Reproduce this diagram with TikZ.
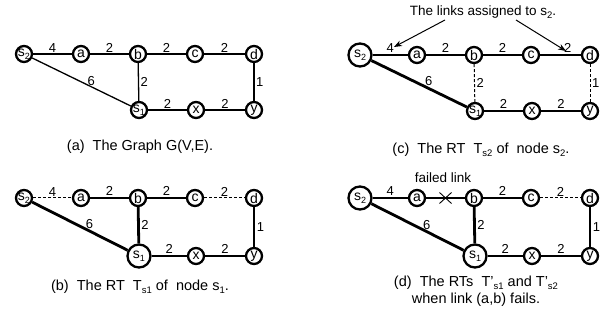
\documentclass[tikz,border=0pt]{standalone}
\usepackage{fontspec}
\setmainfont{Liberation Sans}
\usetikzlibrary{arrows.meta,calc}
\newcommand\mysub[1]{\raisebox{-3.5pt}{\fontsize{9.5}{9.5}\selectfont #1}}
\newcommand\nodesub[1]{\raisebox{-2.5pt}{\fontsize{9}{9}\selectfont #1}}
\newcommand\graphnodes[6]{%
  \node[#5] (#1s2) at ({#2+24},{#3}) {s\nodesub{2}};
  \node[vtx] (#1a) at ({#2+81},{#3}) {a};
  \node[vtx] (#1b) at ({#2+138},{#3}) {b};
  \node[vtx] (#1c) at ({#2+195},{#3}) {c};
  \node[vtx] (#1d) at ({#2+254},{#3}) {d};
  \node[#6] (#1s1) at ({#2+139},{#4}) {s\nodesub{1}};
  \node[vtx] (#1x) at ({#2+196},{#4}) {x};
  \node[vtx] (#1y) at ({#2+254},{#4}) {y};
}
\begin{document}
\begin{tikzpicture}[x=1pt,y=-1pt,
  vtx/.style={circle,draw,line width=2.3pt,minimum size=16pt,inner sep=0pt,
    font=\fontsize{14}{14}\selectfont},
  root/.style={vtx,minimum size=23pt},
  gedge/.style={line width=1.3pt},
  tedge/.style={line width=2.8pt},
  dedge/.style={line width=1pt,dash pattern=on 3pt off 2pt},
  lbl/.style={font=\fontsize{13}{13}\selectfont,inner sep=1pt,anchor=south,pos=0.5},
  vlbl/.style={font=\fontsize{13}{13}\selectfont,inner sep=1.5pt,anchor=west,pos=0.5},
  dlbl/.style={font=\fontsize{13}{13}\selectfont,inner sep=0pt,anchor=south,pos=0.6,yshift=1pt},
  captxt/.style={font=\fontsize{14.5}{17}\selectfont,align=center},
  notetxt/.style={font=\fontsize{13.5}{13.5}\selectfont},
  arr/.style={line width=1pt,-{Stealth[length=8pt,width=6pt]}}
]
\useasboundingbox (0,0) rectangle (605,320);

% ---------- panel (a)
\graphnodes{a-}{0}{54}{110}{vtx}{vtx}
\draw[gedge] (a-s2) -- node[lbl]{4} (a-a);
\draw[gedge] (a-a) -- node[lbl]{2} (a-b);
\draw[gedge] (a-b) -- node[lbl]{2} (a-c);
\draw[gedge] (a-c) -- node[lbl]{2} (a-d);
\draw[gedge] (a-s2) -- node[dlbl]{6} (a-s1);
\draw[gedge] (a-b) -- node[vlbl]{2} (a-s1);
\draw[gedge] (a-s1) -- node[lbl]{2} (a-x);
\draw[gedge] (a-x) -- node[lbl]{2} (a-y);
\draw[gedge] (a-d) -- node[vlbl]{1} (a-y);
\node[captxt] (a-cap) at (140,147) {(a)\ \ The Graph G(V,E).};

% ---------- panel (c)
\graphnodes{c-}{336}{55}{111}{root}{vtx}
\draw[tedge] (c-s2) -- node[lbl]{4} (c-a);
\draw[tedge] (c-a) -- node[lbl]{2} (c-b);
\draw[tedge] (c-b) -- node[lbl]{2} (c-c);
\draw[tedge] (c-c) -- node[lbl,pos=0.68]{2} (c-d);
\draw[tedge] (c-s2) -- node[dlbl]{6} (c-s1);
\draw[dedge] (c-b) -- node[vlbl]{2} (c-s1);
\draw[tedge] (c-s1) -- node[lbl]{2} (c-x);
\draw[tedge] (c-x) -- node[lbl]{2} (c-y);
\draw[dedge] (c-d) -- node[vlbl]{1} (c-y);
\node[notetxt] (c-note) at (483,12) {The links assigned to s\mysub{2}.};
\coordinate (c-f1) at (445,20);
\coordinate (c-t1) at (394,47);
\coordinate (c-f2) at (516,20);
\coordinate (c-t2) at (566,51);
\draw[arr] (c-f1) -- (c-t1);
\draw[arr] (c-f2) -- (c-t2);
\node[captxt] (c-cap) at (481,150) {(c)\ \ The RT \ T\mysub{s2} of \ node s\mysub{2}.};

% ---------- panel (b)
\graphnodes{b-}{0}{198}{256}{vtx}{root}
\draw[dedge] (b-s2) -- node[lbl]{4} (b-a);
\draw[tedge] (b-a) -- node[lbl]{2} (b-b);
\draw[tedge] (b-b) -- node[lbl]{2} (b-c);
\draw[dedge] (b-c) -- node[lbl]{2} (b-d);
\draw[tedge] (b-s2) -- node[dlbl]{6} (b-s1);
\draw[tedge] (b-b) -- node[vlbl]{2} (b-s1);
\draw[tedge] (b-s1) -- node[lbl]{2} (b-x);
\draw[tedge] (b-x) -- node[lbl]{2} (b-y);
\draw[tedge] (b-d) -- node[vlbl]{1} (b-y);
\node[captxt] (b-cap) at (140,287) {(b)\ \ The RT \ T\mysub{s1} of \ node s\mysub{1}.};

% ---------- panel (d)
\graphnodes{d-}{336}{198}{256}{root}{root}
\draw[tedge] (d-s2) -- node[lbl]{4} (d-a);
\draw[gedge] (d-a) -- coordinate (d-fail) (d-b);
\draw[line width=0.9pt] ($(d-fail)+(-6,-5.5)$) -- ($(d-fail)+(6,5.5)$);
\draw[line width=0.9pt] ($(d-fail)+(-6,5.5)$) -- ($(d-fail)+(6,-5.5)$);
\node[notetxt] (d-fl) at (443,178) {failed link};
\draw[tedge] (d-b) -- node[lbl]{2} (d-c);
\draw[dedge] (d-c) -- node[lbl]{2} (d-d);
\draw[tedge] (d-s2) -- node[dlbl]{6} (d-s1);
\draw[tedge] (d-b) -- node[vlbl]{2} (d-s1);
\draw[tedge] (d-s1) -- node[lbl]{2} (d-x);
\draw[tedge] (d-x) -- node[lbl]{2} (d-y);
\draw[tedge] (d-d) -- node[vlbl]{1} (d-y);
\node[captxt] (d-cap) at (476,291) {(d)\ \ The RTs \ T\symbol{39}\mysub{s1} and T\symbol{39}\mysub{s2}\\when link (a,b) fails.};
\end{tikzpicture}
\end{document}
